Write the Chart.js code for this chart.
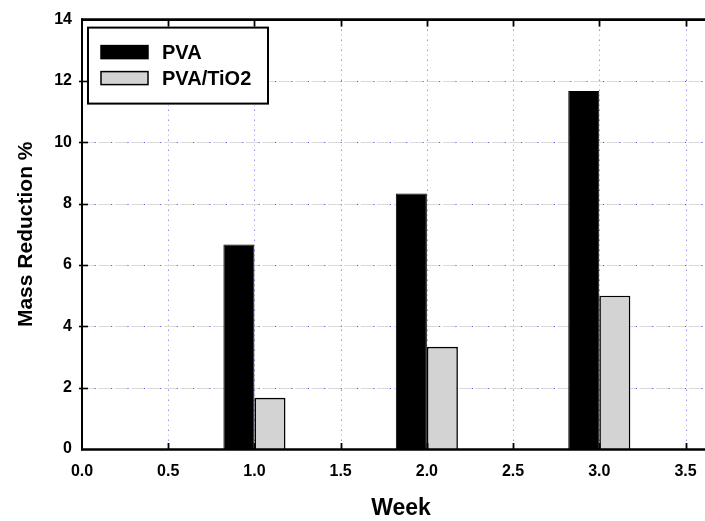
<!DOCTYPE html>
<html>
<head>
<meta charset="utf-8">
<title>Mass Reduction %</title>
<script src="https://cdn.jsdelivr.net/npm/chart.js@4"></script>
<style>
  html, body { margin: 0; padding: 0; background: #ffffff; overflow: hidden; }
  #wrap { width: 705px; height: 521px; overflow: hidden; }
  canvas { display: block; }
</style>
</head>
<body>
<div id="wrap"><canvas id="chart" width="720" height="521"></canvas></div>
<script>
// Mass loss of the films after each week of degradation
const weeks = [1, 2, 3];
const pvaLoss = [6.67, 8.33, 11.67];
const pvaTiO2Loss = [1.67, 3.33, 5.0];
const seriesNames = ['PVA', 'PVA/TiO2'];
const xAxisTitle = 'Week';
const yAxisTitle = 'Mass Reduction %';

const FONT = "'Liberation Sans', Arial, Helvetica, sans-serif";
const INK = '#000000';

function strokeLine(ctx, x1, y1, x2, y2, color, width, dash, offset) {
  ctx.save();
  ctx.beginPath();
  ctx.strokeStyle = color;
  ctx.lineWidth = width;
  ctx.setLineDash(dash || []);
  ctx.lineDashOffset = offset || 0;
  ctx.moveTo(x1, y1);
  ctx.lineTo(x2, y2);
  ctx.stroke();
  ctx.restore();
}

// Dashed / dotted grid behind the bars, frame, tick marks and legend on top
const gridLayer = {
  id: 'gridLayer',
  beforeDatasetsDraw(chart) {
    const { ctx, chartArea: a, scales: { x, y } } = chart;
    y.ticks.forEach(t => {
      if (t.value <= y.min || t.value >= y.max) return;
      const py = Math.round(y.getPixelForValue(t.value)) + 0.5;
      strokeLine(ctx, a.left, py, a.right, py, '#dadada', 1.2, [12.4, 4], 0);
      strokeLine(ctx, a.left, py, a.right, py, '#5a5ae6', 1, [1.2, 15.2], -12.6);
    });
    x.ticks.forEach(t => {
      if (t.value <= x.min) return;
      const px = Math.round(x.getPixelForValue(t.value)) + 0.5;
      strokeLine(ctx, px, a.top, px, a.bottom, '#7272e0', 1, [1.2, 8.8], 0);
      strokeLine(ctx, px, a.top, px, a.bottom, '#c4c4cc', 1, [1.2, 8.8], -5);
    });
  },
  afterDatasetsDraw(chart) {
    const { ctx, chartArea: a, scales: { x, y } } = chart;
    // frame
    strokeLine(ctx, a.left, a.top - 1, a.left, a.bottom + 1.5, INK, 2);
    strokeLine(ctx, a.left - 1, a.bottom + 0.5, a.right, a.bottom + 0.5, INK, 2.6);
    strokeLine(ctx, a.left - 1, a.top, a.right, a.top, INK, 2.6);
    // inward tick marks on top and bottom, crossing ticks on the left
    x.ticks.forEach(t => {
      if (t.value <= x.min) return;
      const px = Math.round(x.getPixelForValue(t.value)) + 0.5;
      strokeLine(ctx, px, a.top, px, a.top + 7, INK, 1.8);
      strokeLine(ctx, px, a.bottom, px, a.bottom - 6, INK, 1.8);
    });
    y.ticks.forEach(t => {
      if (t.value <= y.min || t.value >= y.max) return;
      const py = Math.round(y.getPixelForValue(t.value)) + 0.5;
      strokeLine(ctx, a.left - 3, py, a.left + 6, py, INK, 1.6);
    });
    // legend box
    const bx = a.left + 6, by = a.top + 8, bw = 180, bh = 76;
    ctx.save();
    ctx.fillStyle = '#ffffff';
    ctx.fillRect(bx, by, bw, bh);
    ctx.lineWidth = 2;
    ctx.strokeStyle = INK;
    ctx.strokeRect(bx, by, bw, bh);
    ctx.font = 'bold 20px ' + FONT;
    ctx.textBaseline = 'middle';
    ctx.textAlign = 'left';
    chart.data.datasets.forEach((ds, i) => {
      const rowY = by + 25 + i * 26;
      ctx.fillStyle = ds.backgroundColor;
      ctx.fillRect(bx + 13, rowY - 7, 47, 13);
      ctx.lineWidth = 1.5;
      ctx.strokeStyle = INK;
      ctx.strokeRect(bx + 13, rowY - 7, 47, 13);
      ctx.fillStyle = INK;
      ctx.fillText(ds.label, bx + 74, rowY + 1);
    });
    ctx.restore();
  }
};

new Chart(document.getElementById('chart'), {
  type: 'bar',
  data: {
    datasets: [
      {
        label: seriesNames[0],
        data: weeks.map((w, i) => ({ x: w, y: pvaLoss[i] })),
        backgroundColor: '#000000',
        borderColor: '#000000',
        borderWidth: 1
      },
      {
        label: seriesNames[1],
        data: weeks.map((w, i) => ({ x: w, y: pvaTiO2Loss[i] })),
        backgroundColor: '#d3d3d3',
        borderColor: '#000000',
        borderWidth: 1.6
      }
    ]
  },
  options: {
    responsive: false,
    animation: false,
    devicePixelRatio: 1,
    barPercentage: 1,
    categoryPercentage: 0.72,
    layout: { padding: { top: 16, right: 0, bottom: 0, left: 0 } },
    plugins: {
      legend: { display: false },
      tooltip: { enabled: false }
    },
    scales: {
      x: {
        type: 'linear',
        min: 0,
        max: 3.7,
        offset: false,
        grid: { display: false, drawTicks: false },
        border: { display: false },
        ticks: {
          stepSize: 0.5,
          includeBounds: false,
          padding: 13,
          color: INK,
          font: { family: FONT, size: 16, weight: 'bold' },
          callback: v => Number(v).toFixed(1)
        },
        title: {
          display: true,
          text: xAxisTitle,
          color: INK,
          font: { family: FONT, size: 23, weight: 'bold', lineHeight: 1 },
          padding: { top: 0, bottom: 1 }
        },
        afterFit(axis) { axis.height = 72; }
      },
      y: {
        min: 0,
        max: 14,
        grid: { display: false, drawTicks: false },
        border: { display: false },
        ticks: {
          stepSize: 2,
          padding: 10,
          color: INK,
          font: { family: FONT, size: 16, weight: 'bold' }
        },
        title: {
          display: true,
          text: yAxisTitle,
          color: INK,
          font: { family: FONT, size: 21, weight: 'bold', lineHeight: 1 },
          padding: { top: 16, bottom: 0 }
        },
        afterFit(axis) { axis.width = 82; }
      }
    }
  },
  plugins: [gridLayer]
});
</script>
</body>
</html>
